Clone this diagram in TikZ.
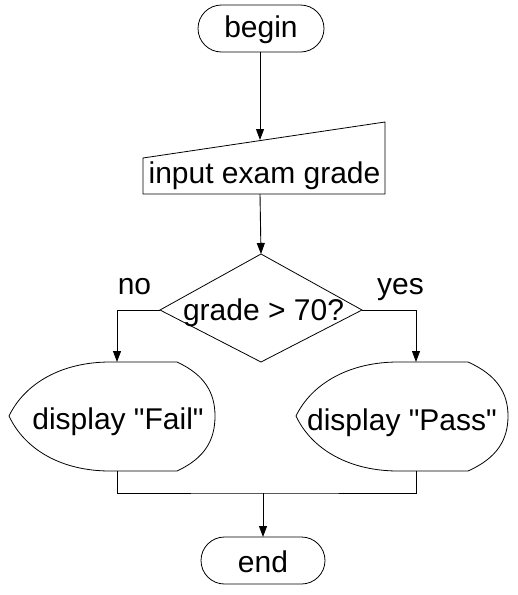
\documentclass[tikz,border=0pt]{standalone}
\usepackage{fontspec}
\setmainfont{Liberation Sans}
\usetikzlibrary{arrows.meta}
\begin{document}
\begin{tikzpicture}[x=1pt,y=-1pt,line width=0.9pt,
  lbl/.style={font=\fontsize{30}{32}\selectfont,inner sep=0pt,anchor=base},
  arr/.style={-{Triangle[length=11pt,width=8pt]}},
  outline/.style={draw,line width=0.8pt}]
\useasboundingbox (0,0) rectangle (518,595);
% begin terminal
\draw[outline,rounded corners=23.5pt] (198,5) rectangle (324,52);
\coordinate (beginbot) at (260,52);
\node[lbl] (begintxt) at (261,37) {begin};
% manual input
\draw[outline] (143,158) -- (385,122) -- (385,194) -- (143,194) -- cycle;
\coordinate (intop) at (260,140);
\coordinate (inbot) at (260,194);
\node[lbl] (intxt) at (264.5,183) {input exam grade};
% decision
\coordinate (dtop) at (261,254);
\coordinate (dleft) at (160,310);
\coordinate (dright) at (362,310);
\coordinate (dbot) at (261,362);
\draw[outline] (dtop) -- (dright) -- (dbot) -- (dleft) -- cycle;
\node[lbl] (dectxt) at (263.5,320) {grade > 70?};
\node[lbl] (no) at (134.5,294) {no};
\node[lbl] (yes) at (400.5,294) {yes};
% display Fail
\coordinate (failtop) at (117,362);
\coordinate (failbot) at (117,471);
\draw[outline] (177,362) -- (110,362) .. controls (62,362) and (25,383) .. (9,416)
  .. controls (25,450) and (62,471) .. (110,471) -- (177,471)
  .. controls (205,458) and (215,440) .. (215,416)
  .. controls (215,393) and (205,375) .. (177,362);
\node[lbl] (failtxt) at (118,429) {display \textquotedbl Fail\textquotedbl};
% display Pass
\coordinate (passtop) at (416,362);
\coordinate (passbot) at (416,471);
\draw[outline] (468,362) -- (398,362) .. controls (350,362) and (312,383) .. (296,416)
  .. controls (312,450) and (350,471) .. (398,471) -- (468,471)
  .. controls (497,458) and (508,440) .. (508,416)
  .. controls (508,393) and (497,375) .. (468,362);
\node[lbl] (passtxt) at (402,430) {display \textquotedbl Pass\textquotedbl};
% end terminal
\draw[outline,rounded corners=23.5pt] (201,537) rectangle (325,584);
\coordinate (endtop) at (263,537);
\node[lbl] (endtxt) at (263,572) {end};
% connectors
\coordinate (join) at (263,493);
\draw[arr] (beginbot) -- (intop);
\draw[arr] (inbot) -- (dtop);
\draw[arr] (dleft) -| (failtop);
\draw[arr] (dright) -| (passtop);
\draw (failbot) |- (join) -| (passbot);
\draw[arr] (join) -- (endtop);
\end{tikzpicture}
\end{document}
